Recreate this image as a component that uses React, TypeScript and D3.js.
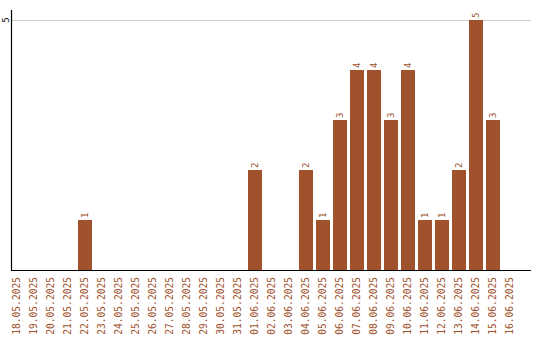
import React from "react";
import * as d3 from "d3";

const dates = [
  "18.05.2025", "19.05.2025", "20.05.2025", "21.05.2025", "22.05.2025",
  "23.05.2025", "24.05.2025", "25.05.2025", "26.05.2025", "27.05.2025",
  "28.05.2025", "29.05.2025", "30.05.2025", "31.05.2025", "01.06.2025",
  "02.06.2025", "03.06.2025", "04.06.2025", "05.06.2025", "06.06.2025",
  "07.06.2025", "08.06.2025", "09.06.2025", "10.06.2025", "11.06.2025",
  "12.06.2025", "13.06.2025", "14.06.2025", "15.06.2025", "16.06.2025",
];
const counts = [
  0, 0, 0, 0, 1,
  0, 0, 0, 0, 0,
  0, 0, 0, 0, 2,
  0, 0, 2, 1, 3,
  4, 4, 3, 4, 1,
  1, 2, 5, 3, 0,
];
const yTicks = [5];

const W = 540;
const H = 340;
const COLOR = "#a0522d";
const FONT = "'DejaVu Sans Mono', monospace";

export default function App() {
  const x = d3
    .scaleBand<string>()
    .domain(dates)
    .range([10, 517])
    .paddingInner(3 / 17)
    .paddingOuter(0);
  const y = d3.scaleLinear().domain([0, 5]).range([270, 20]);
  const left = 11;
  const right = 531;

  return (
    <svg
      width={W}
      height={H}
      style={{ position: "absolute", left: 0, top: 0, display: "block" }}
    >
      <rect x={0} y={0} width={W} height={H} fill="#fff" />
      {yTicks.map((t) => (
        <g key={t}>
          <line x1={left} x2={right} y1={y(t) + 0.5} y2={y(t) + 0.5} stroke="#cccccc" />
          <text
            transform={`translate(5.5,${y(t)}) rotate(-90)`}
            textAnchor="middle"
            dy="0.35em"
            fontFamily={FONT}
            fontSize={9}
            fill="#000"
          >
            {t}
          </text>
        </g>
      ))}
      {dates.map((d, i) => {
        const v = counts[i];
        const bx = x(d)!;
        const bw = x.bandwidth();
        return (
          <g key={d}>
            {v > 0 && (
              <>
                <rect x={bx} y={y(v)} width={bw} height={y(0) - y(v)} fill={COLOR} />
                <text
                  transform={`translate(${bx + bw / 2},${y(v) - 2}) rotate(-90)`}
                  textAnchor="start"
                  dy="0.35em"
                  fontFamily={FONT}
                  fontSize={9}
                  fill={COLOR}
                >
                  {v}
                </text>
              </>
            )}
            <text
              transform={`translate(${bx + bw / 2},277) rotate(-90)`}
              textAnchor="end"
              dy="0.35em"
              fontFamily={FONT}
              fontSize={9.6}
              fill={COLOR}
            >
              {d}
            </text>
          </g>
        );
      })}
      <line x1={left + 0.5} x2={left + 0.5} y1={10} y2={270.5} stroke="#000" strokeWidth={1.2} />
      <line x1={left} x2={right} y1={270.5} y2={270.5} stroke="#000" strokeWidth={1.2} />
    </svg>
  );
}
